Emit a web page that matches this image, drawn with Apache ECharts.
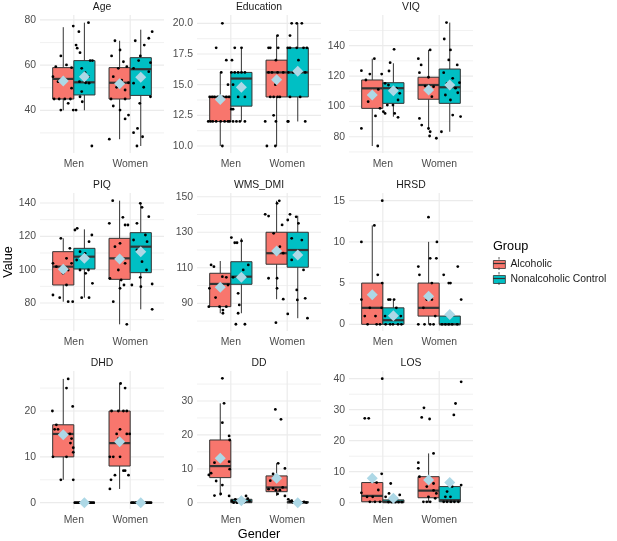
<!DOCTYPE html>
<html><head><meta charset="utf-8">
<script src="https://cdn.jsdelivr.net/npm/echarts@6/dist/echarts.min.js"></script>
<style>html,body{margin:0;padding:0;background:#fff}#c{width:617px;height:541px}</style>
</head><body><div id="c"></div>
<script>
// ---------- categories ----------
const panels = ['Age','Education','VIQ','PIQ','WMS_DMI','HRSD','DHD','DD','LOS'];
const genders = ['Men','Women'];
const groups = ['Alcoholic','Nonalcoholic Control'];

// ---------- box stats [lower whisker, Q1, median, Q3, upper whisker]; order: Men-Alc, Men-Ctl, Women-Alc, Women-Ctl ----------
const ageBox = [[40,45,53.9,58.9,76.8],[40,46.8,52.4,62,78.8],[27.2,45,52.2,58.9,70.8],[24.2,46.6,58.2,63.3,75.7]];
const eduBox = [[10,12,14,14,16],[12,13.25,15.5,16,18],[10,14,16,17,19],[12,14,16,18,20]];
const viqBox = [[73.9,98.7,111.9,117.4,131.4],[93.2,102,112,115.6,128.4],[84.4,104.7,114.1,119.2,137.2],[83.3,102,112.6,124.6,155.2]];
const piqBox = [[80.8,90.8,101.8,110.8,118.8],[83.2,100.4,107.8,112.8,124.2],[67.2,94.2,106.8,118.8,141.4],[76.2,98.2,113.8,122.2,139.4]];
const wmsBox = [[84.4,88.1,100.9,106.9,113.8],[84.4,100.7,105,113.4,126.6],[92.3,112,118.2,130,147.7],[81.6,110.3,120,130,139.3]];
const hrsdBox = [[0,0,2,5,12],[0,0,0.5,2,3],[0,1,2,5,10],[0,0,0,1,1]];
const dhdBox = [[5,10,15,17,27],[0,0,0,0,0],[3,8,13,20,26],[0,0,0,0,0]];
const ddBox = [[2.1,7.4,10.8,18.5,29.3],[0,0,0.3,1,2],[2,3.25,4.5,7.9,11.6],[0,0,0.1,0.3,0.8]];
const losBox = [[0,0.3,2.2,6.5,9.3],[0,0,0.3,0.9,2],[0,1.6,3.9,8.4,15.9],[0,0.3,0.8,5.2,5.5]];

// ---------- group means ----------
const ageMean = [53,54.9,51.8,54.6];
const eduMean = [13.8,14.8,15.4,16.1];
const viqMean = [107.5,110.3,110.8,114.1];
const piqMean = [100.2,106.8,106.4,110.8];
const wmsMean = [99,104.6,119.4,117.2];
const hrsdMean = [3.6,1.05,3.4,1.2];
const dhdMean = [14.8,0,13.3,0];
const ddMean = [13.1,0.6,7.2,0];
const losMean = [7.9,1.4,7.3,6.5];

// ---------- observations [jitter offset from gender position, value] ----------
const agePts = [
 [[-0.01,77.3],[-0.23,64.1],[-0.32,59.3],[-0.13,60.1],[-0.04,58.9],[-0.37,54.9],[-0.19,54],[-0.35,45],[-0.26,45],[-0.16,45],[-0.06,45],[-0.1,43.1],[-0.23,40.1],[-0.01,40.1],[-0.04,49.8],[-0.28,52.7]],
 [[0.26,78.8],[0.09,74.8],[0.04,68.9],[0.06,67.5],[0.11,65.5],[0.29,62],[0.33,62],[0.14,58.6],[0.2,56.7],[0.26,54.9],[0.1,52.7],[0.21,52.2],[0.27,52],[0.14,48.3],[0.11,46],[0.15,43.8],[0.04,40.1],[0.32,24.2]],
 [[-0.27,70.8],[-0.18,66.7],[-0.33,64.1],[-0.12,61.5],[-0.06,59.3],[-0.21,58.6],[-0.3,54.9],[-0.15,53.4],[-0.03,52.2],[-0.24,50.2],[-0.09,49],[-0.34,45],[-0.09,45],[-0.3,41.9],[-0.18,40.1],[-0.03,37.9],[-0.09,36.2],[-0.37,27.2]],
 [[0.39,74.8],[0.09,70.8],[0.33,71.9],[0.25,68.9],[0.18,64.1],[0.15,62],[0.36,61.1],[0.06,58.6],[0.33,57.1],[0.15,54.9],[0.06,52],[0.24,50.2],[0.36,46],[0.17,43.1],[0.13,32],[0.06,30.1],[0.22,28.3],[0.12,24.2]]
];
const eduPts = [
 [[-0.15,20],[-0.26,18],[-0.17,16],[-0.15,10],[-0.375,14],[-0.33,14],[-0.29,14],[-0.23,14],[-0.14,14],[-0.08,14],[-0.03,14],[-0.4,12],[-0.36,12],[-0.32,12],[-0.26,12],[-0.18,12],[-0.11,12],[-0.05,12],[-0.02,12],[-0.08,17],[-0.05,15]],
 [[0.07,18],[0.19,18],[0.02,17],[0.01,16],[0.07,16],[0.13,16],[0.19,16],[0.25,16],[0.04,15],[0.13,14],[0.25,14],[0.01,13],[0.04,13],[0.04,12],[0.1,12],[0.16,12],[0.25,12]],
 [[-0.36,10],[-0.21,10],[-0.24,12.5],[-0.39,12],[-0.2,12],[-0.3,14],[-0.24,14],[-0.17,14],[-0.13,14],[-0.33,16],[-0.27,16],[-0.17,16],[-0.07,16],[-0.2,17],[-0.33,18],[-0.3,18],[-0.16,18],[-0.17,19],[-0.21,15]],
 [[0.08,20],[0.17,20],[0.26,20],[0.05,19],[0.01,18],[0.05,18],[0.17,18],[0.29,18],[0.35,18],[0.2,17],[0.02,16],[0.11,16],[0.23,16],[0.32,16],[0.05,14],[0.23,14],[0.01,12],[0.02,12],[0.32,12]]
];
const viqPts = [
 [[-0.38,123.5],[-0.38,85.5],[-0.3,117.4],[-0.23,121.3],[-0.15,131.4],[-0.09,73.9],[-0.13,93.7],[-0.26,103.1],[-0.05,98.7],[-0.08,111.2],[-0.2,106.4],[-0.02,121.3]],
 [[0.2,137.6],[0.13,128.8],[0.11,123.3],[0.04,115.2],[0.1,114.1],[0.24,112],[0.3,108.6],[0.27,104.2],[0.18,100.9],[0.01,96.5],[0.04,95.4],[0.21,95.4],[0.27,92.8],[0.08,100.9]],
 [[-0.37,131.4],[-0.32,127.3],[-0.35,122.2],[-0.16,137.2],[-0.19,119.2],[-0.25,113.4],[-0.1,113],[-0.13,106.4],[-0.35,92.1],[-0.31,87.7],[-0.19,85.5],[-0.16,83.3],[-0.17,80.5],[-0.05,79]],
 [[0.13,155.2],[0.09,144.4],[0.2,137.2],[0.17,130.6],[0.32,127.3],[0.08,122.2],[0.24,118.5],[0.14,115.2],[0.36,115.6],[0.29,112],[0.11,107.5],[0.33,109],[0.2,104.2],[0.24,94.3],[0.38,93.3],[0.04,83.3]]
];
const piqPts = [
 [[-0.37,84.8],[-0.25,83.2],[-0.1,80.8],[-0.02,80.8],[-0.23,118.8],[-0.37,103.8],[-0.31,101.8],[-0.13,106.8],[-0.1,99.8],[-0.19,97.8],[-0.13,90.8],[-0.07,112.8],[-0.04,103.8]],
 [[0.02,123.8],[0.06,124.8],[0.27,116.8],[0.11,110.8],[0.17,107.8],[0.05,105.8],[0.26,99.8],[0.21,97.8],[0.14,83.2],[0.27,83.2],[0.33,91.8],[0.2,109.8],[0.32,120.8],[0.11,99.8]],
 [[-0.31,141.4],[-0.37,127.8],[-0.13,131.4],[-0.09,126.8],[-0.04,126.8],[-0.27,113.8],[-0.18,115.8],[-0.36,94.8],[-0.21,99.8],[-0.09,103.8],[-0.16,93.8],[-0.3,80.8],[-0.18,88.8],[-0.06,67.2],[-0.11,90.8]],
 [[0.18,139.8],[0.21,137.4],[0.12,127.8],[0.33,131.8],[0.27,120.8],[0.06,117.8],[0.3,116.8],[0.12,111.8],[0.21,104.8],[0.29,99.8],[0.18,95.4],[0.03,90.8],[0.19,89.8],[0.39,91.4],[0.39,76.2]]
];
const wmsPts = [
 [[-0.35,111.6],[-0.3,110.6],[-0.38,98.4],[-0.27,93.2],[-0.15,105],[-0.39,88.1],[-0.2,88.1],[-0.14,86.2],[-0.14,84.4],[-0.08,88.1],[-0.05,100.3],[-0.08,104.6]],
 [[0.01,127],[0.07,124.1],[0.11,124.1],[0.19,125.1],[0.04,104.6],[0.16,105],[0.22,108.8],[0.13,95.6],[0.15,89.1],[0.09,78.2],[0.25,78.2],[0.13,84.4],[0.31,111.6]],
 [[-0.39,140.1],[-0.33,139.1],[-0.18,146.3],[-0.14,147.7],[-0.24,129.4],[-0.13,121.9],[-0.07,118.2],[-0.33,104.1],[-0.18,104.1],[-0.18,98.4],[-0.07,92.3],[-0.2,79.1],[-0.09,134.1]],
 [[0.01,136.9],[0.05,140.1],[0.16,138.7],[0.2,135],[0.08,126.6],[0.26,125.6],[0.2,118.2],[0.08,114.4],[0.29,108.8],[0.32,92.8],[0.18,91.9],[0.01,84],[0.36,81.6],[0.17,97.5]]
];
const hrsdPts = [
 [[-0.38,10],[-0.38,3],[-0.32,1],[-0.27,0],[-0.23,2],[-0.15,12],[-0.13,1],[-0.11,0],[-0.09,6],[-0.05,0],[-0.01,15],[-0.01,5],[-0.02,2]],
 [[0.1,3],[0.13,3],[0.2,3],[0.04,1],[0.13,0],[0.18,0],[0.27,0],[0.32,1],[0.24,2],[0.33,0],[0.05,0]],
 [[-0.37,7],[-0.35,6],[-0.37,0],[-0.26,0],[-0.28,2],[-0.19,13],[-0.16,8],[-0.13,5],[-0.22,3],[-0.13,3],[-0.16,0],[-0.1,0],[-0.04,10],[-0.05,8],[-0.07,1]],
 [[0.05,0],[0.11,0],[0.17,0],[0.23,0],[0.32,0],[0.08,6],[0.17,5],[0.2,5],[0.21,1],[0.33,7],[0.39,3]]
];
const dhdPts = [
 [[-0.38,20],[-0.34,16],[-0.28,16],[-0.31,17],[-0.37,10],[-0.23,5],[-0.13,10],[-0.1,27],[-0.13,25],[-0.02,21],[-0.07,15],[-0.04,14],[-0.06,13],[-0.01,12],[-0.01,11],[-0.01,5],[-0.19,15]],
 [[0.02,0],[0.05,0],[0.08,0],[0.11,0],[0.14,0],[0.17,0],[0.2,0],[0.23,0],[0.26,0],[0.29,0],[0.32,0],[0.35,0]],
 [[-0.36,3],[-0.34,5],[-0.27,6],[-0.36,10],[-0.3,10],[-0.18,10],[-0.33,20],[-0.21,20],[-0.12,20],[-0.06,20],[-0.17,26],[-0.09,25],[-0.18,16],[-0.24,15],[-0.06,15],[-0.01,15],[-0.21,14],[-0.12,7],[-0.09,7],[-0.03,6]],
 [[0.03,0],[0.06,0],[0.1,0],[0.13,0],[0.16,0],[0.19,0],[0.22,0],[0.25,0],[0.28,0],[0.31,0],[0.34,0],[0.37,0]]
];
const ddPts = [
 [[-0.15,36.7],[-0.12,29.3],[-0.15,23.6],[-0.03,19.7],[-0.02,18.5],[-0.39,8.2],[-0.35,8.7],[-0.26,6.4],[-0.15,5.2],[-0.29,2.1],[-0.18,2.6],[-0.03,12.1],[-0.02,9.9],[-0.29,11.8],[-0.03,2]],
 [[0.02,0.5],[0.05,0],[0.08,1],[0.11,0],[0.14,0.8],[0.17,0.3],[0.2,0],[0.24,0.2],[0.27,2],[0.3,1.2],[0.33,0.5],[0.12,0.4]],
 [[-0.21,27.5],[-0.11,24.6],[-0.16,11.6],[-0.04,10.1],[-0.25,8.5],[-0.21,7.2],[-0.3,6.5],[-0.25,4.2],[-0.2,3.7],[-0.13,3.7],[-0.08,4.5],[-0.17,2.6],[-0.04,2],[-0.33,4]],
 [[0.02,1],[0.05,0.4],[0.1,0.1],[0.14,0],[0.18,0],[0.22,0],[0.26,0],[0.3,0.2],[0.34,0],[0.08,0.6]]
];
const losPts = [
 [[-0.32,27.2],[-0.25,27.2],[-0.01,40],[-0.02,9.3],[-0.38,3.2],[-0.08,4.1],[-0.11,6.5],[-0.28,1.9],[-0.23,0.3],[-0.14,0.3],[-0.05,0.3],[-0.18,1.9]],
 [[0.14,6.2],[0.05,1.9],[0.1,0.2],[0.16,0.2],[0.22,0.2],[0.28,0.2],[0.34,0.2],[0.11,3],[0.24,1.4],[0.3,2.5]],
 [[-0.37,12.9],[-0.37,11.1],[-0.27,30.6],[-0.31,27.5],[-0.17,27],[-0.1,15.9],[-0.35,8.4],[-0.16,7.3],[-0.22,5.2],[-0.1,6.2],[-0.28,0.3],[-0.22,0.3],[-0.16,0.3],[-0.19,1.9],[-0.07,1.4],[-0.1,4],[-0.05,3]],
 [[0.39,39],[0.29,32],[0.26,28.3],[0.39,5.7],[0.14,3.6],[0.2,1.9],[0.08,0.3],[0.14,0.3],[0.21,0.3],[0.27,0.3],[0.34,0.3],[0.23,5.2],[0.11,1.9]]
];

// ---------- axis ranges and tick labels ----------
const yMin = [21.1, 9.43, 69.3, 63.2, 74.4, -0.81, -1.37, -1.86, -2.03];
const yMax = [82.2, 20.68, 160.2, 146, 152.1, 15.93, 28.73, 38.85, 42.48];
const majorTicks = [[40,60,80],[10,12.5,15,17.5,20],[80,100,120,140],[80,100,120,140],[90,110,130,150],[0,5,10,15],[0,10,20],[0,10,20,30],[0,10,20,30,40]];
const tickDecimals = [0,1,0,0,0,0,0,0,0];

const boxes = [ageBox,eduBox,viqBox,piqBox,wmsBox,hrsdBox,dhdBox,ddBox,losBox];
const means = [ageMean,eduMean,viqMean,piqMean,wmsMean,hrsdMean,dhdMean,ddMean,losMean];
const points = [agePts,eduPts,viqPts,piqPts,wmsPts,hrsdPts,dhdPts,ddPts,losPts];

// ---------- layout / style ----------
const colLeft = [40, 197, 349];
const rowTop = [15, 193, 371];
const plotW = 124, plotH = 138;
const groupColors = ['#F8766D', '#00BFC4'];
const dodge = 0.1875, halfBox = 0.1875;
const FONT = 'Liberation Sans, Arial, sans-serif';
const legendLeft = 493, legendTop = 259.5, legendKeyW = 12, legendKeyH = 8;

function minorTicks(maj, lo, hi) {
  const d = maj[1] - maj[0];
  const ext = [maj[0] - d].concat(maj, [maj[maj.length - 1] + d]);
  const out = [];
  for (let k = 0; k < ext.length - 1; k++) {
    const m = (ext[k] + ext[k + 1]) / 2;
    if (m > lo && m < hi) out.push(m);
  }
  return out;
}

const grids = [], xAxes = [], yAxes = [], series = [], graphics = [];

panels.forEach((name, i) => {
  const r = Math.floor(i / 3), c = i % 3;
  grids.push({left: colLeft[c], top: rowTop[r], width: plotW, height: plotH, outerBoundsMode: 'none', containLabel: false});
  const maj = majorTicks[i];
  const step = (maj[1] - maj[0]) / 2;
  const xa = {
    gridIndex: i, type: 'value', min: 0.4, max: 2.6, minInterval: 1, maxInterval: 1,
    axisLine: {show: false}, axisTick: {show: false}, splitLine: {show: false},
    axisLabel: {margin: 6, color: '#4D4D4D', fontSize: 10.4, fontFamily: FONT,
      formatter: v => (Math.abs(v - 1) < 1e-6 ? genders[0] : Math.abs(v - 2) < 1e-6 ? genders[1] : '')}
  };
  if (i === 7) {
    xa.name = 'Gender'; xa.nameLocation = 'middle'; xa.nameGap = 19;
    xa.nameTextStyle = {fontSize: 12.7, color: '#000', fontFamily: FONT};
  }
  xAxes.push(xa);
  const dec = tickDecimals[i];
  const ya = {
    gridIndex: i, type: 'value', min: yMin[i], max: yMax[i], minInterval: step, maxInterval: step,
    axisLine: {show: false}, axisTick: {show: false}, splitLine: {show: false},
    axisLabel: {margin: 4, color: '#4D4D4D', fontSize: 10.4, fontFamily: FONT,
      formatter: v => (maj.some(m => Math.abs(m - v) < 1e-6) ? v.toFixed(dec) : '')}
  };
  if (i === 3) {
    ya.name = 'Value'; ya.nameLocation = 'middle'; ya.nameRotate = 90; ya.nameGap = 24;
    ya.nameTextStyle = {fontSize: 12.7, color: '#000', fontFamily: FONT};
  }
  yAxes.push(ya);

  // panel strip title
  graphics.push({type: 'text', x: colLeft[c] + plotW / 2, y: rowTop[r] - 8,
    style: {text: name, fill: '#1A1A1A', fontSize: 10.4, fontFamily: FONT, align: 'center', verticalAlign: 'middle', textAlign: 'center', textVerticalAlign: 'middle'}});

  // gridlines
  const gl = [];
  maj.forEach(v => gl.push([v, 1, 0]));
  minorTicks(maj, yMin[i], yMax[i]).forEach(v => gl.push([v, 0, 0]));
  [1, 2].forEach(v => gl.push([v, 1, 1]));
  const y0 = yMin[i];
  series.push({
    type: 'custom', name: 'grid' + i, xAxisIndex: i, yAxisIndex: i, z: 1, silent: true,
    data: gl,
    renderItem: (params, api) => {
      const v = api.value(0), major = api.value(1), orient = api.value(2);
      const cs = params.coordSys;
      let shape;
      if (orient === 0) {
        const y = api.coord([1, v])[1];
        shape = {x1: cs.x, y1: y, x2: cs.x + cs.width, y2: y};
      } else {
        const x = api.coord([v, y0])[0];
        shape = {x1: x, y1: cs.y, x2: x, y2: cs.y + cs.height};
      }
      return {type: 'line', shape, style: {stroke: '#EBEBEB', lineWidth: major ? 1.2 : 0.7}};
    }
  });

  // boxes
  groups.forEach((g, gi) => {
    const data = genders.map((gd, k) => [k + 1 + (gi ? dodge : -dodge)].concat(boxes[i][k * 2 + gi]));
    series.push({
      type: 'custom', name: g, xAxisIndex: i, yAxisIndex: i, z: 2,
      itemStyle: {color: groupColors[gi]},
      encode: {x: 0, y: [1, 2, 3, 4, 5]},
      data,
      renderItem: (params, api) => {
        const x = api.value(0), lo = api.value(1), q1 = api.value(2), md = api.value(3), q3 = api.value(4), hi = api.value(5);
        const tl = api.coord([x - halfBox, q3]), br = api.coord([x + halfBox, q1]);
        const pLo = api.coord([x, lo]), pHi = api.coord([x, hi]);
        const mL = api.coord([x - halfBox, md]), mR = api.coord([x + halfBox, md]);
        const stroke = '#333333';
        return {type: 'group', children: [
          {type: 'line', shape: {x1: pLo[0], y1: pLo[1], x2: pLo[0], y2: br[1]}, style: {stroke, lineWidth: 1}},
          {type: 'line', shape: {x1: pHi[0], y1: pHi[1], x2: pHi[0], y2: tl[1]}, style: {stroke, lineWidth: 1}},
          {type: 'rect', shape: {x: tl[0], y: tl[1], width: br[0] - tl[0], height: br[1] - tl[1]}, style: {fill: api.visual('color'), stroke, lineWidth: 1}},
          {type: 'line', shape: {x1: mL[0], y1: mL[1], x2: mR[0], y2: mR[1]}, style: {stroke, lineWidth: 2.2}}
        ]};
      }
    });
  });

  // jittered observations
  const pts = [];
  genders.forEach((gd, k) => groups.forEach((g, gi) => {
    points[i][k * 2 + gi].forEach(p => pts.push([k + 1 + p[0], p[1]]));
  }));
  series.push({type: 'scatter', name: 'obs' + i, xAxisIndex: i, yAxisIndex: i, z: 3, silent: true,
    symbol: 'circle', symbolSize: 2.8, itemStyle: {color: '#000', opacity: 1}, data: pts});

  // means
  const md = [];
  genders.forEach((gd, k) => groups.forEach((g, gi) => md.push([k + 1 + (gi ? dodge : -dodge), means[i][k * 2 + gi]])));
  series.push({type: 'scatter', name: 'mean' + i, xAxisIndex: i, yAxisIndex: i, z: 4, silent: true,
    symbol: 'diamond', symbolSize: 11, itemStyle: {color: '#ADD8E6', opacity: 1}, data: md});
});

// legend title
graphics.push({type: 'text', x: legendLeft, y: 246,
  style: {text: 'Group', fill: '#000', fontSize: 12.7, fontFamily: FONT, align: 'left', verticalAlign: 'middle', textAlign: 'left', textVerticalAlign: 'middle'}});

const chart = echarts.init(document.getElementById('c'), null, {renderer: 'canvas'});
chart.setOption({
  animation: false,
  backgroundColor: '#FFFFFF',
  textStyle: {fontFamily: FONT},
  grid: grids, xAxis: xAxes, yAxis: yAxes,
  legend: {
    data: groups, orient: 'vertical', left: legendLeft, top: legendTop, padding: 0,
    itemWidth: legendKeyW, itemHeight: legendKeyH, itemGap: 5,
    icon: 'rect', selectedMode: false,
    itemStyle: {borderColor: '#333333', borderWidth: 0.8},
    textStyle: {fontSize: 10.4, color: '#1A1A1A', fontFamily: FONT}
  },
  graphic: graphics,
  series
});

// legend key whiskers and median lines, placed on the rendered legend icons
(function addKeyMarks() {
  const legendView = chart.getViewOfComponentModel(chart.getModel().getComponent('legend'));
  const extra = [];
  try {
    const items = legendView.getContentGroup().children();
    items.forEach(it => {
      const rect = it.getBoundingRect();
      const cx = it.x + legendKeyW / 2 + legendLeft;
      const cy = it.y + rect.y + rect.height / 2 + legendTop;
      extra.push({type: 'line', z: 100, shape: {x1: cx, y1: cy - legendKeyH / 2 - 2.5, x2: cx, y2: cy - legendKeyH / 2}, style: {stroke: '#333', lineWidth: 0.8}});
      extra.push({type: 'line', z: 100, shape: {x1: cx, y1: cy + legendKeyH / 2, x2: cx, y2: cy + legendKeyH / 2 + 2.5}, style: {stroke: '#333', lineWidth: 0.8}});
      extra.push({type: 'line', z: 100, shape: {x1: cx - legendKeyW / 2, y1: cy, x2: cx + legendKeyW / 2, y2: cy}, style: {stroke: '#333', lineWidth: 1.2}});
    });
  } catch (e) {}
  if (extra.length) chart.setOption({graphic: graphics.concat(extra)});
})();
</script>
</body></html>
